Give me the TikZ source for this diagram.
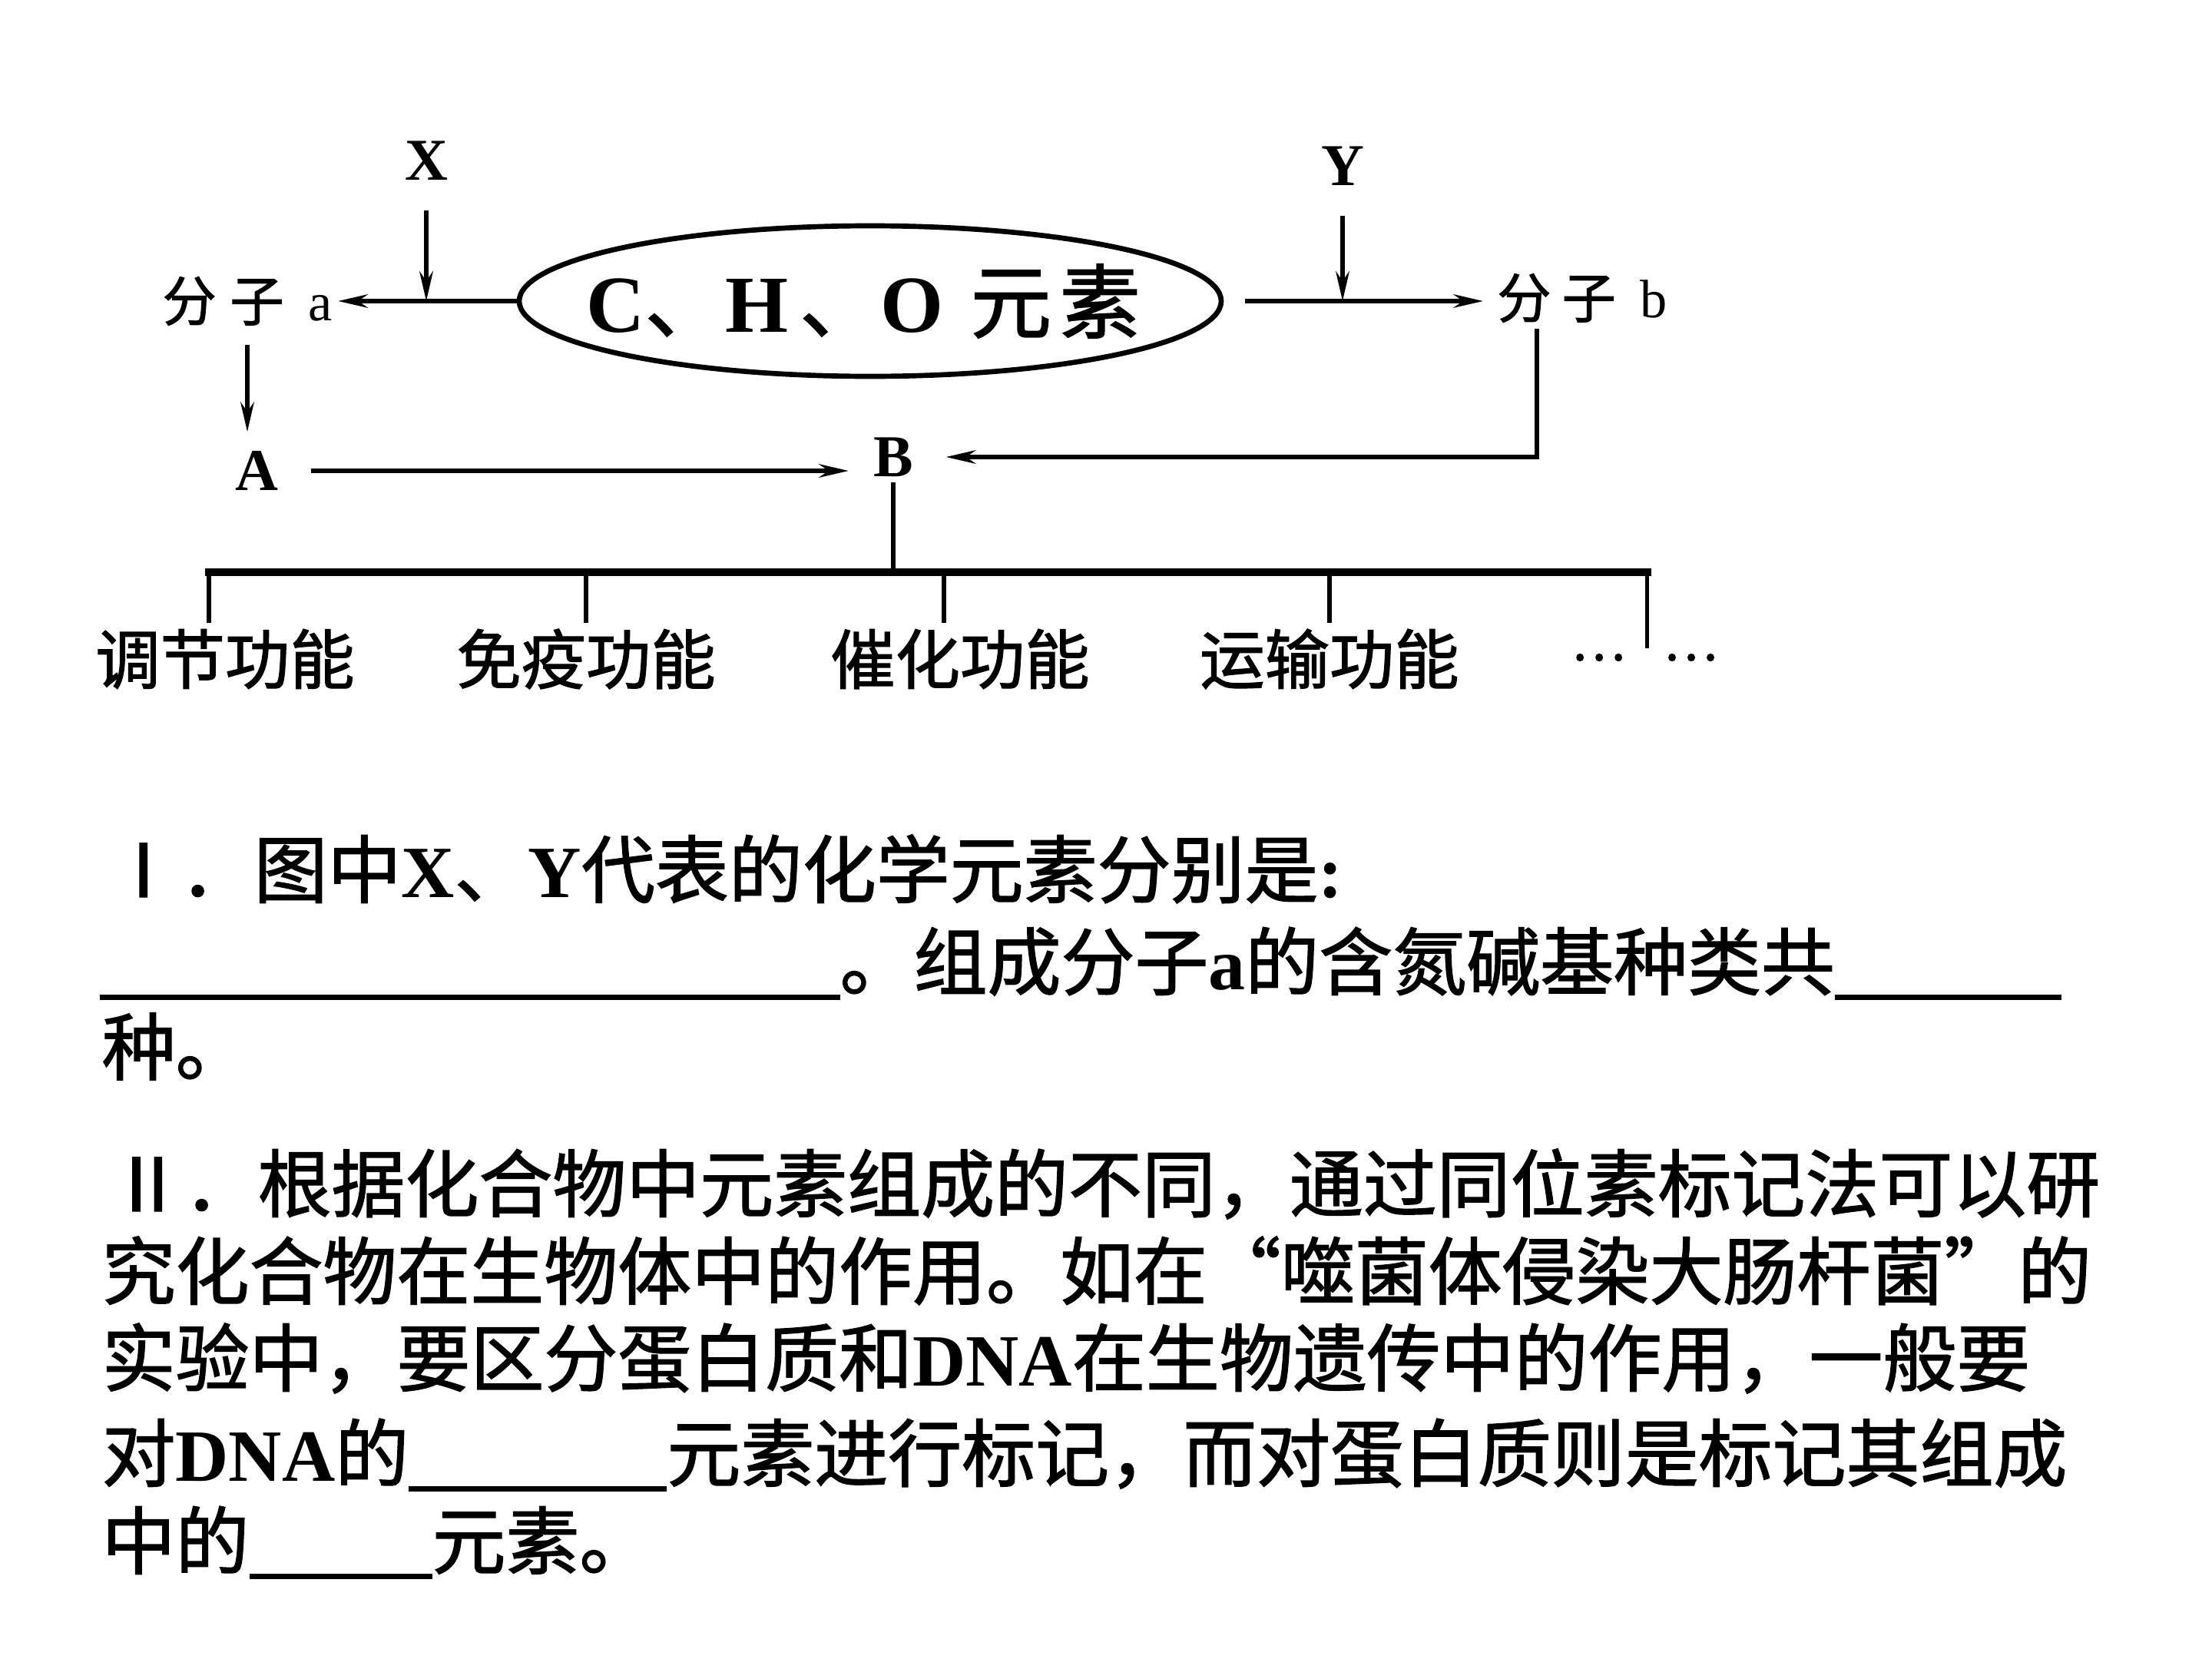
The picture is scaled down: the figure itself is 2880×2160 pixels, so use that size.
\documentclass[tikz,border=0pt]{standalone}
\usepackage{fontspec}
\usepackage{graphicx}
\setmainfont{Liberation Serif}
\newfontfamily\cjk{Noto Sans CJK SC}
\newfontfamily\cjkb{Noto Sans CJK SC}[FakeBold=1.5]
\usetikzlibrary{arrows.meta,shapes.geometric}

\newcommand{\en}[1]{{\rmfamily\bfseries #1}}
\newcommand{\blank}[1]{\rule[-4pt]{#1}{2pt}}

\tikzset{
  flow/.style={line width=1.6pt, -{Stealth[length=11pt,width=5pt]}},
  link/.style={line width=1.6pt},
  bus/.style={line width=3pt, line cap=rect},
  mol/.style={font=\fontsize{20}{20}\selectfont, inner sep=2pt},
  letter/.style={font=\bfseries\fontsize{22}{22}\selectfont, inner sep=2pt},
  func/.style={font=\cjkb\fontsize{24}{24}\selectfont, inner sep=2pt},
  row/.style={anchor=base west, inner sep=0pt, font=\cjkb\fontsize{27.3}{27.3}\selectfont}
}

\begin{document}
\begin{tikzpicture}[x=0.1mm, y=-0.1mm]
  \useasboundingbox (0,0) rectangle (2880,2160);
  % elements and molecules
  \node[draw, ellipse, line width=1.9pt, minimum width=91.4mm, minimum height=19.6mm,
        inner sep=0pt, font=\fontsize{30}{30}\selectfont] (elem) at (1133,392)
        {\makebox[0pt]{\hspace{-5pt}\en{C}{\cjkb 、}\en{H}\hspace{4pt}{\cjkb 、}\en{O}\hspace{10pt}{\cjkb 元}\hspace{3pt}{\cjkb 素}}};
  \node[mol] (ma) at (322,392) {{\cjkb 分}\hspace{5pt}{\cjkb 子}\hspace{9pt}a};
  \node[mol] (mb) at (2060,388) {{\cjkb 分}\hspace{4pt}{\cjkb 子}\hspace{9pt}b};
  \node[letter] (X) at (555,209) {X};
  \node[letter] (Y) at (1748,216) {Y};
  \node[letter] (A) at (334,613) {A};
  \node[letter] (B) at (1163,595) {B};
  \coordinate (bturn) at (2001,595);
  \coordinate (bus) at (1166,745);
  % arrows
  \draw[flow] (elem) -- (ma);
  \draw[flow, shorten <=8pt, shorten >=3pt] (elem.east) -- (elem.east -| mb.west);
  \draw[flow, shorten <=9pt] (X) -- (X |- elem.west);
  \draw[flow, shorten <=9pt] (Y) -- (Y |- elem.east);
  \draw[flow, shorten <=5pt, shorten >=5pt] (ma.south) -- (ma.south |- A.north);
  \draw[flow, shorten <=10pt, shorten >=7pt] (A.east) -- (A.east -| B.west);
  \draw[flow, shorten >=10pt] (mb.south -| bturn) -- (bturn) -- (B.east);
  % functions of B
  \node[func] (f1) at (293,858) {调节功能};
  \node[func] (f2) at (763,858) {免疫功能};
  \node[func] (f3) at (1250,858) {催化功能};
  \node[func] (f4) at (1731,858) {运输功能};
  \node[func, font=\cjkb\fontsize{19}{19}\selectfont] (f5) at (2141,856) {…\hspace{14pt}…};
  \draw[link] (B) -- (B |- bus);
  \draw[bus] ([xshift=-6pt]f1.north |- bus) -- ([xshift=1pt]f5.north |- bus);
  \foreach \i/\dx in {1/-6,2/0,3/-6,4/0,5/1}
    \draw[link] ([xshift=\dx pt]f\i.north |- bus) -- ([xshift=\dx pt]f\i.north);
  % questions
  \node[row] (t1) at (138,1168) {Ⅰ．图中\en{X}、\en{Y}代表的化学元素分别是\en{:}};
  \node[row] (t2) at (129,1288) {\blank{96.4mm}。组成分子\en{a}的含氮碱基种类共\blank{29.5mm}};
  \node[row] (t3) at (132,1399) {种。};
  \node[row] (t4) at (143,1577) {Ⅱ．根据化合物中元素组成的不同，通过同位素标记法可以研};
  \node[row] (t5) at (132,1691) {究化合物在生物体中的作用。如在“噬菌体侵染大肠杆菌”的};
  \node[row] (t6) at (132,1804) {实验中，要区分蛋白质和\en{DNA}在生物遗传中的作用，一般要};
  \node[row] (t7) at (132,1928) {对\en{DNA}的\blank{33.6mm}元素进行标记，而对蛋白质则是标记其组成};
  \node[row] (t8) at (132,2042) {中的\blank{23.8mm}元素。};
\end{tikzpicture}
\end{document}
